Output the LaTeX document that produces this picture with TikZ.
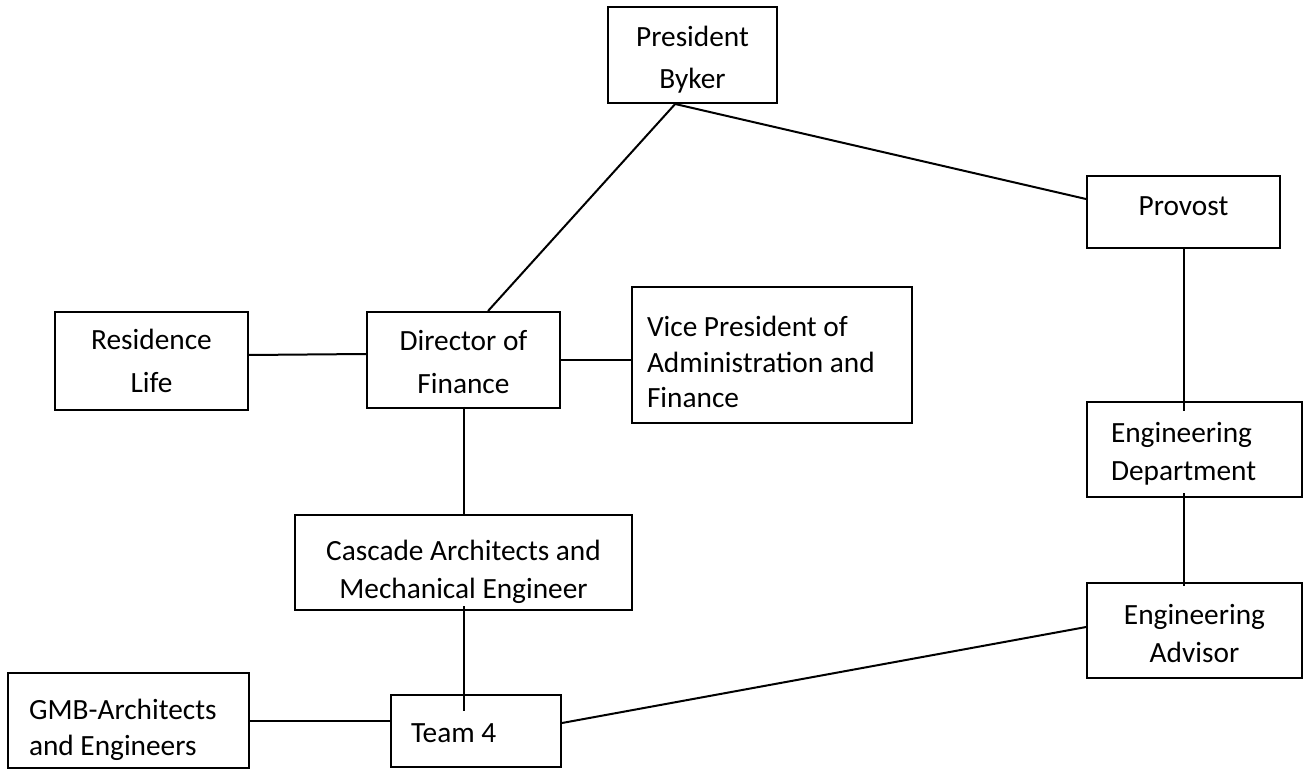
\documentclass[tikz,border=0pt]{standalone}
\usepackage{fontspec}
\setmainfont{Carlito}
\usetikzlibrary{calc}
\begin{document}
\begin{tikzpicture}[x=0.75pt,y=-0.75pt,
  box/.style={draw, line width=1.5pt, rectangle, inner sep=0pt},
  txt/.style={inner sep=0pt, align=flush center, font=\fontsize{22}{28.5}\selectfont},
  ltxt/.style={txt, align=flush left},
  conn/.style={line width=1.5pt}]
\useasboundingbox (0,0) rectangle (1304,777);
% boxes
\node[box, minimum width=126.75pt, minimum height=72pt] (pres) at (692.5,55) {};
\node[box, minimum width=144.75pt, minimum height=54pt] (prov) at (1183.5,212) {};
\node[box, minimum width=144.75pt, minimum height=73.5pt] (res) at (151.5,361) {};
\node[box, minimum width=144.75pt, minimum height=72pt] (dir) at (463.5,360) {};
\node[box, minimum width=210pt, minimum height=102pt] (vp) at (772,355) {};
\node[box, minimum width=161.25pt, minimum height=71.25pt] (ed) at (1194.5,449.5) {};
\node[box, minimum width=161.25pt, minimum height=71.25pt] (ea) at (1194.5,630.5) {};
\node[box, minimum width=252.75pt, minimum height=71.25pt] (casc) at (463.5,562.5) {};
\node[box, minimum width=180.75pt, minimum height=71.25pt] (gmb) at (128.5,720.5) {};
\node[box, minimum width=127.5pt, minimum height=54pt] (team) at (476,731) {};
% texts
\node[txt, font=\fontsize{22}{31.5}\selectfont] (presT) at (692.5,60) {President\\Byker};
\node[txt] (provT) at (1183.5,206) {Provost};
\node[txt, font=\fontsize{22}{32}\selectfont] (resT) at (151.5,361) {Residence\\Life};
\node[txt, font=\fontsize{22}{32}\selectfont] (dirT) at (463.5,362) {Director of\\Finance};
\node[ltxt, text width=187.5pt, font=\fontsize{22}{26.5}\selectfont] (vpT) at (772,362) {Vice President of\\Administration and\\Finance};
\node[ltxt, text width=125.25pt] (edT) at (1194.5,454) {Engineering\\Department};
\node[txt] (eaT) at (1194.5,634) {Engineering\\Advisor};
\node[txt] (cascT) at (463.5,571.5) {Cascade Architects and\\Mechanical Engineer};
\node[ltxt, text width=149.25pt, font=\fontsize{22}{27}\selectfont] (gmbT) at (128.5,729.5) {GMB-Architects\\and Engineers};
\node[ltxt, text width=97.5pt] (teamT) at (476,733) {Team 4};
% connectors
\draw[conn] ([xshift=-13pt]pres.south) -- ([xshift=18.4pt]dir.north);
\draw[conn] ([xshift=-13pt]pres.south) -- ([yshift=9.75pt]prov.west);
\draw[conn] ([yshift=4.5pt]res.east) -- ([yshift=4.5pt]dir.west);
\draw[conn] (dir.east) -- (dir.east -| vp.west);
\draw[conn, shorten <=-1.5pt] (dir.south) -- (casc.north);
\draw[conn, shorten <=-3.75pt, shorten >=-12.75pt] (casc.south) -- (casc.south |- team.north);
\draw[conn] (gmb.east) -- (gmb.east -| team.west);
\draw[conn] ([yshift=6pt]team.east) -- ([yshift=2.6pt]ea.west);
\draw[conn, shorten >=-7.5pt] (prov.south) -- (prov.south |- ed.north);
\draw[conn, shorten <=-3.75pt, shorten >=-3pt] (ed.south -| prov.south) -- (ea.north -| prov.south);
\end{tikzpicture}
\end{document}
